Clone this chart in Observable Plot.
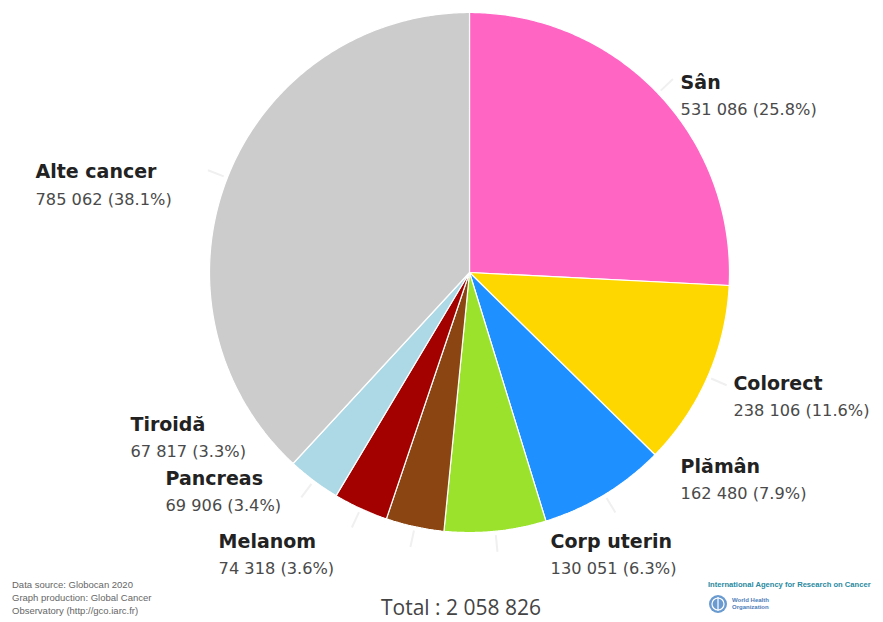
<!DOCTYPE html>
<html><head><meta charset="utf-8">
<script src="https://cdn.jsdelivr.net/npm/d3@7"></script>
<script src="https://cdn.jsdelivr.net/npm/@observablehq/plot@0.6"></script>
<style>
body{margin:0;background:#fff;}
#wrap{position:relative;width:883px;height:622px;overflow:hidden;font-family:"Open Sans",sans-serif;}
#chart svg{overflow:visible;display:block;}
.src{position:absolute;left:12px;top:578px;font-family:"Liberation Sans",Arial,sans-serif;font-size:9.5px;line-height:13px;color:#666;}
.total{position:absolute;left:381px;top:596px;font-family:"Open Sans",sans-serif;font-size:21px;line-height:22px;color:#444;white-space:nowrap;}
.iarc{position:absolute;left:708px;top:580px;font-family:"Liberation Sans",Arial,sans-serif;font-size:7.6px;font-weight:bold;color:#2a8aa0;white-space:nowrap;}
.who{position:absolute;left:708px;top:594px;display:flex;align-items:center;gap:4px;font-family:"Liberation Sans",Arial,sans-serif;font-size:6px;line-height:7px;color:#4d7db8;font-weight:bold;}
</style></head><body>
<div id="wrap">
<div id="chart"></div>
<div class="src">Data source: Globocan 2020<br>Graph production: Global Cancer<br>Observatory (http://gco.iarc.fr)</div>
<div class="total"></div>
<div class="iarc">International Agency for Research on Cancer</div>
<div class="who"><svg width="20" height="20" viewBox="0 0 20 20"><circle cx="10" cy="10" r="9" fill="#6a9bd0"/><circle cx="10" cy="10" r="6" fill="none" stroke="#fff" stroke-width="1.2"/><line x1="10" y1="3" x2="10" y2="17" stroke="#fff" stroke-width="1.2"/></svg><span>World Health<br>Organization</span></div>
</div>
<script>
// ---- data ----
const categories = ["Sân", "Colorect", "Plămân", "Corp uterin", "Melanom", "Pancreas", "Tiroidă", "Alte cancer"];
const cases = [531086, 238106, 162480, 130051, 74318, 69906, 67817, 785062];
const percents = [25.8, 11.6, 7.9, 6.3, 3.6, 3.4, 3.3, 38.1];
const total = 2058826;
const sliceColors = ["#ff66c4", "#ffd700", "#1e90ff", "#9be22d", "#8b4513", "#a30000", "#add8e6", "#cccccc"];
// label layout (unit coordinates of the pie frame, left-aligned text)
const labelAt = [[0.812, 0.731], [1.015, -0.427], [0.812, -0.746], [0.312, -1.035], [-0.965, -1.035], [-1.169, -0.792], [-1.304, -0.585], [-1.669, 0.385]];

const fmt = n => d3.format(",")(n).replace(/,/g, " ");
const rows = categories.map((c, i) => ({cat: c, value: cases[i], pct: percents[i], lx: labelAt[i][0], ly: labelAt[i][1]}));
const arcs = d3.pie().sort(null).value(d => d.value)(rows);

// polygons for slices
const poly = [];
arcs.forEach(a => {
  const n = Math.max(4, Math.ceil((a.endAngle - a.startAngle) / 0.01));
  poly.push({cat: a.data.cat, x: 0, y: 0});
  for (let k = 0; k <= n; k++) {
    const t = a.startAngle + (a.endAngle - a.startAngle) * k / n;
    poly.push({cat: a.data.cat, x: Math.sin(t), y: Math.cos(t)});
  }
  poly.push({cat: a.data.cat, x: 0, y: 0});
});
const leaders = arcs.map(a => {
  const m = (a.startAngle + a.endAngle) / 2;
  return {x1: Math.sin(m) * 1.015, y1: Math.cos(m) * 1.015, x2: Math.sin(m) * 1.08, y2: Math.cos(m) * 1.08};
});

const chart = Plot.plot({
  width: 883, height: 580,
  marginLeft: 209, marginRight: 154, marginTop: 12, marginBottom: 48,
  x: {domain: [-1, 1], axis: null},
  y: {domain: [-1, 1], axis: null},
  color: {domain: categories, range: sliceColors},
  style: {background: "#fff", overflow: "visible"},
  marks: [
    Plot.link(leaders, {x1: "x1", y1: "y1", x2: "x2", y2: "y2", stroke: "#f0f0f0", strokeWidth: 2}),
    Plot.line(poly, {x: "x", y: "y", z: "cat", fill: "cat", stroke: "#fff", strokeWidth: 1.2, strokeLinejoin: "miter", curve: "linear"}),
    Plot.text(rows, {x: "lx", y: "ly", text: "cat", textAnchor: "start", fontFamily: "DejaVu Sans", fontWeight: "bold", fontSize: 19, fill: "#222"}),
    Plot.text(rows, {x: "lx", y: "ly", text: d => `${fmt(d.value)} (${d.pct}%)`, dy: 27, textAnchor: "start", fontFamily: "DejaVu Sans", fontSize: 16.2, fill: "#4a4a4a"})
  ]
});
document.getElementById("chart").appendChild(chart);
document.querySelector(".total").textContent = "Total : " + fmt(total);
</script>
</body></html>
